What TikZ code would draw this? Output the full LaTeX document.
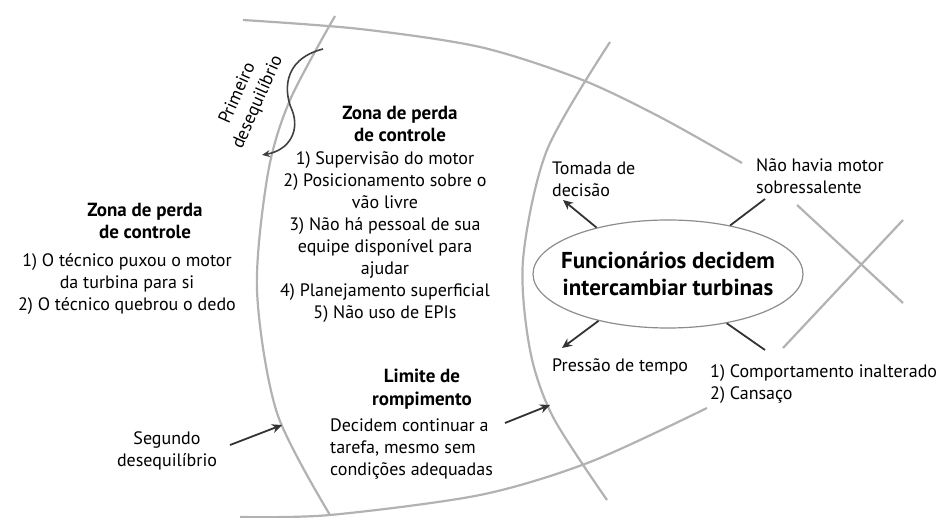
\documentclass[tikz,border=0pt]{standalone}
\usepackage{fontspec}
\setmainfont{PT Sans}
\usetikzlibrary{arrows.meta,shapes.geometric}

\begin{document}
\begin{tikzpicture}[x=1pt,y=-1pt,
  curva/.style={draw=black!30, line width=2.2pt},
  seta/.style={draw=black!80, line width=1.8pt, -{Stealth[length=10pt,width=9pt]}},
  haste/.style={draw=black!80, line width=1.8pt},
  texto/.style={font=\fontsize{18}{22}\selectfont, align=center, inner sep=0pt},
  titulo/.style={font=\fontsize{19}{22.5}\selectfont\bfseries, align=center, inner sep=0pt}]

\useasboundingbox (0,0) rectangle (947,518);

% arcos cinza
\draw[curva] plot[smooth] coordinates {(243,20) (360,29) (480,47) (580,79) (660,117) (742,163)};
\draw[curva] plot[smooth] coordinates {(335,16) (290,100) (268,173) (257,290) (277,413) (330,515)};
\draw[curva] plot[smooth] coordinates {(610,42) (547,150) (523,260) (530,350) (553,417) (607,500)};
\draw[curva] plot[smooth] coordinates {(240,517) (330,515) (480,495) (590,462) (707,408)};
\draw[curva] (797,205) -- (903,303);
\draw[curva] (903,220) -- (783,348);

% evento central
\node[draw=black!45, line width=1.2pt, ellipse, minimum width=270pt, minimum height=108pt] (evento) at (668,274) {};
\node[font=\fontsize{23}{27}\selectfont\bfseries, align=center] (funcionarios) at (evento) {Funcionários decidem\\intercambiar turbinas};

\node[texto, align=left, anchor=west] (tomada) at (552,179) {Tomada de\\decisão};
\node[texto, align=left, anchor=west] (motor) at (756,176) {Não havia motor\\sobressalente};
\node[texto, align=left, anchor=west] (pressao) at (552,367) {Pressão de tempo};
\node[texto, align=left, anchor=west] (comport) at (710,384) {1) Comportamento inalterado\\2) Cansaço};

\coordinate (tomadaseta) at (563,200);
\coordinate (motorfim) at (765,199);
\coordinate (pressaoseta) at (562,348);
\coordinate (comportfim) at (765,350);

\draw[seta] (evento.147) -- (tomadaseta);
\draw[haste] (evento.38) -- (motorfim);
\draw[seta] (evento.214) -- (pressaoseta);
\draw[haste] (evento.320) -- (comportfim);

% zona central
\node[titulo] (zona2) at (400,124) {Zona de perda\\de controle};
\node[texto] (lista2) at (385,237) {1) Supervisão do motor\\2) Posicionamento sobre o\\vão livre\\3) Não há pessoal de sua\\equipe disponível para\\ajudar\\4) Planejamento superficial\\5) Não uso de EPIs};

% zona esquerda
\node[titulo] (zona1) at (145,221) {Zona de perda\\de controle};
\node[texto] (lista1) at (127,284) {1) O técnico puxou o motor\\da turbina para si\\2) O técnico quebrou o dedo};

% limite
\node[titulo] (limite) at (422,389) {Limite de\\rompimento};
\node[texto, align=left, anchor=west] (decidem) at (330,449) {Decidem continuar a\\tarefa, mesmo sem\\condições adequadas};

\coordinate (limiteini) at (505,423);
\coordinate (limiteseta) at (550,405);
\draw[seta] (limiteini) -- (limiteseta);

% desequilibrios
\node[texto] (segundo) at (167,451) {Segundo\\desequilíbrio};
\coordinate (segundoini) at (230,445);
\coordinate (segundoseta) at (282,425);
\draw[seta] (segundoini) -- (segundoseta);

\node[texto, rotate=66] (primeiro) at (248,98) {Primeiro\\desequilíbrio};
\coordinate (primeiroini) at (323,49);
\coordinate (primeiroseta) at (262,155);
\draw[draw=black!75, line width=1.6pt, -{Stealth[length=8pt,width=7pt]}]
  (primeiroini) .. controls (280,60) and (285,95) .. (292,110)
  .. controls (300,130) and (290,150) .. (primeiroseta);

\end{tikzpicture}
\end{document}
